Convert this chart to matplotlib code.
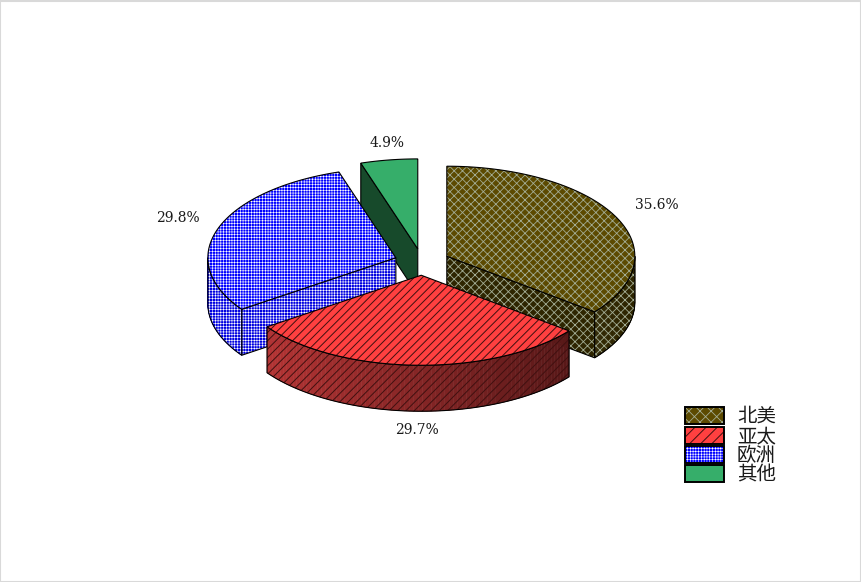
#!/usr/bin/env python3
import numpy as np
import matplotlib
matplotlib.use('Agg')
import matplotlib.pyplot as plt
from matplotlib.colors import to_rgb
from matplotlib.patches import Polygon, Rectangle

regions = ['北美', '亚太', '欧洲', '其他']
shares = [35.6, 29.7, 29.8, 4.9]
share_labels = ['35.6%', '29.7%', '29.8%', '4.9%']

top_colors = ['#5c4a00', '#ff4040', '#0000ff', '#36ae6a']
side_left = ['#2e2500', '#b43434', '#0000e0', '#174a2b']
side_right = ['#2e2500', '#581818', '#0000e0', '#174a2b']
hatch_colors = ['#a3ad94', '#401010', '#ffffff', None]
hatches = ['xxxx', '////', '++++++', None]
legend_hatches = ['xxx', '///', '++++++', None]
hatch_widths = [0.6, 0.7, 0.4, 0]

label_pos = [(657, 205), (417, 430), (178, 218), (387, 143)]

# pie projection, in pixels
cx, cy = 422, 262
a, b = 188, 90
depth = 46
explode = 27.6
squash = 0.48

ends = np.cumsum(shares) * 3.6
starts = ends - np.array(shares) * 3.6

fig = plt.figure(figsize=(8.62, 5.82), dpi=100)
ax = fig.add_axes([0, 0, 1, 1])
ax.set_xlim(0, 862)
ax.set_ylim(582, 0)
ax.axis('off')


def arc(x0, y0, t0, t1, dy=0):
    t = np.radians(np.linspace(t0, t1, 80))
    return np.column_stack([x0 + a * np.sin(t), y0 - b * np.cos(t) + dy])


def face(points, color, hatch_color, hatch, hatch_w, lw=0.8):
    # fill, hatch and outline are separate because hatch takes the edge colour
    plt.rcParams['hatch.linewidth'] = hatch_w if hatch_w else 0.5
    ax.add_patch(Polygon(points, closed=True, facecolor=color, edgecolor='none', lw=0))
    if hatch:
        ax.add_patch(Polygon(points, closed=True, facecolor='none',
                             edgecolor=hatch_color, hatch=hatch, lw=0))
    ax.add_patch(Polygon(points, closed=True, facecolor='none', edgecolor='black', lw=lw))


# back to front: green, blue, yellow, red
for i in [3, 2, 0, 1]:
    t0, t1 = starts[i], ends[i]
    mid = np.radians((t0 + t1) / 2)
    x0 = cx + explode * np.sin(mid)
    y0 = cy - explode * squash * np.cos(mid)
    apex = np.array([[x0, y0]])

    # radial cut faces that look towards the viewer
    for t, normal in [(t0, t0 - 90), (t1, t1 + 90)]:
        if np.cos(np.radians(normal)) < -1e-6:
            rim_pt = arc(x0, y0, t, t)[:1]
            pts = np.vstack([apex, rim_pt, rim_pt + [0, depth], apex + [0, depth]])
            face(pts, side_left[i], hatch_colors[i], hatches[i], hatch_widths[i])

    # outer wall, only the part between 90 and 270 degrees shows
    lo, hi = max(t0, 90), min(t1, 270)
    if lo < hi:
        upper = arc(x0, y0, lo, hi)
        lower = arc(x0, y0, hi, lo, depth)
        wall = np.vstack([upper, lower])
        n = len(upper) - 1
        c_l, c_r = np.array(to_rgb(side_left[i])), np.array(to_rgb(side_right[i]))
        xmin, xmax = upper[:, 0].min(), upper[:, 0].max()
        for k in range(n):
            f = (upper[k, 0] - xmin) / (xmax - xmin)
            quad = [upper[k], upper[k + 1], lower[n - k - 1], lower[n - k]]
            col = c_l + (c_r - c_l) * f
            ax.add_patch(Polygon(quad, closed=True, facecolor=col, edgecolor=col, lw=0.4))
        plt.rcParams['hatch.linewidth'] = hatch_widths[i] if hatch_widths[i] else 0.5
        if hatches[i]:
            ax.add_patch(Polygon(wall, closed=True, facecolor='none',
                                 edgecolor=hatch_colors[i], hatch=hatches[i], lw=0))
        ax.add_patch(Polygon(wall, closed=True, facecolor='none', edgecolor='black', lw=0.8))

    top = np.vstack([apex, arc(x0, y0, t0, t1)])
    face(top, top_colors[i], hatch_colors[i], hatches[i], hatch_widths[i])

for lab, (x, y) in zip(share_labels, label_pos):
    ax.text(x, y, lab, ha='center', va='center', fontsize=10,
            family='DejaVu Serif', color='#1a1a1a')

# legend
legend_y = [407, 427, 446, 465]
for i, y in enumerate(legend_y):
    face([(685, y), (724, y), (724, y + 17), (685, y + 17)],
         top_colors[i], hatch_colors[i], legend_hatches[i], hatch_widths[i], lw=1.4)
    ax.text(737, y + 15, regions[i], ha='left', va='baseline', fontsize=14,
            family=['Noto Sans CJK SC', 'DejaVu Sans'], weight='light', color='#1a1a1a')

# page border
ax.add_patch(Rectangle((0.5, 0.5), 861, 581, facecolor='none', edgecolor='#d9d9d9', lw=1.5))

fig.savefig('out.png', dpi=100)
